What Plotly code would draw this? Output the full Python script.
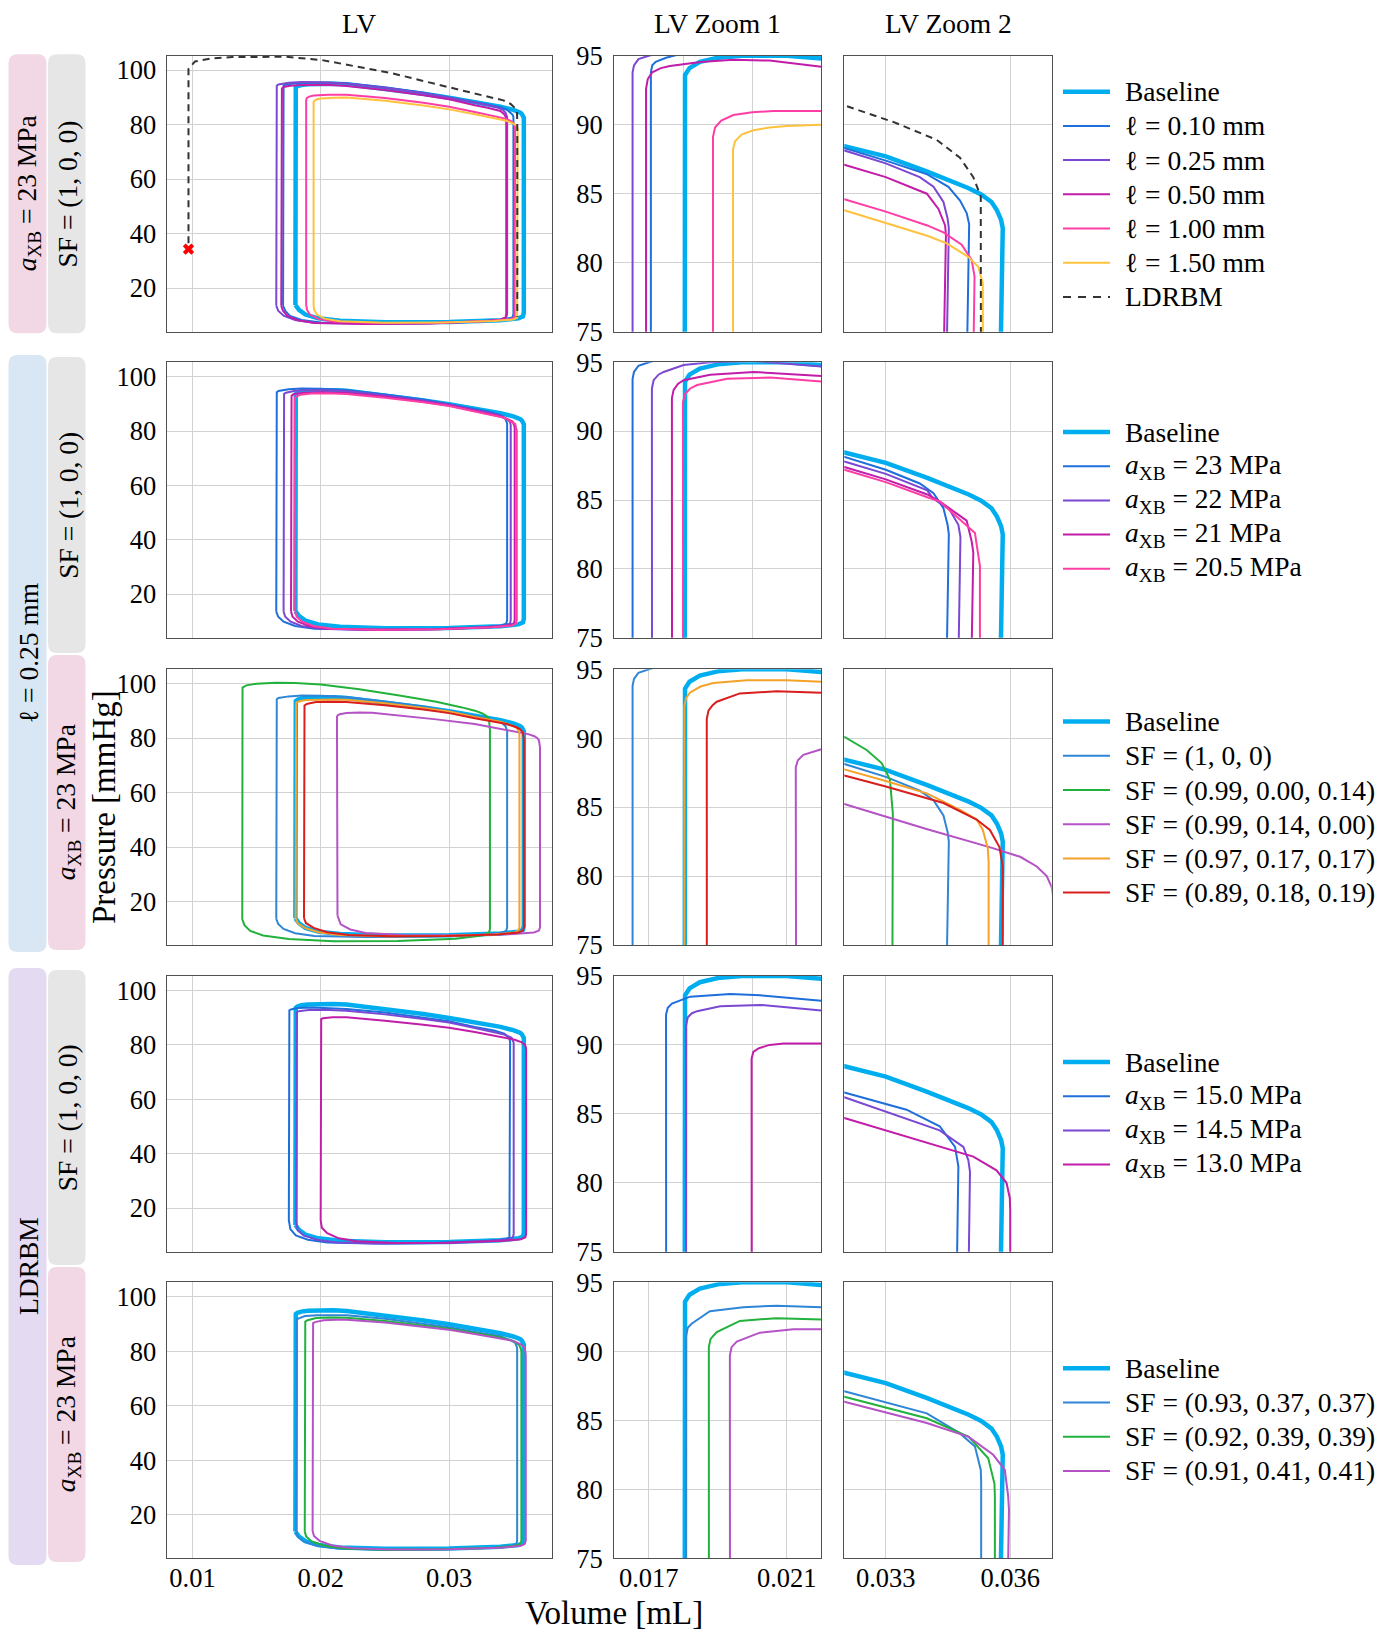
import plotly.graph_objects as go

# page is 1388 x 1633; the html body keeps an 8px margin, so the figure starts at (8, 8)
PAGE_W, PAGE_H, OFF = 1388, 1633, 8
W, H = PAGE_W - 2 * OFF, PAGE_H - OFF
SERIF = "Liberation Serif, Times New Roman, serif"

# ---------------------------------------------------------------- data
COLUMN_TITLES = ["LV", "LV Zoom 1", "LV Zoom 2"]
X_RANGES = [(0.008, 0.038), (0.016, 0.022), (0.032, 0.037)]
Y_RANGES = [(4.0, 105.3), (75.0, 95.0), (75.0, 95.0)]
LV_XTICKS = [0.01, 0.02, 0.03]
LV_XTICKTEXT = ["0.01", "0.02", "0.03"]
Z1_XTICKS_A = [0.016, 0.018, 0.020, 0.022]
Z1_XTICKS_B = [0.017, 0.021]
Z1_XTICKTEXT_B = ["0.017", "0.021"]
Z2_XTICKS = [0.033, 0.036]
Z2_XTICKTEXT = ["0.033", "0.036"]
LV_YTICKS = [20, 40, 60, 80, 100]
Z_YTICKS = [75, 80, 85, 90, 95]

# pressure-volume loops: (volume [mL], pressure [mmHg])
BASELINE = [
    (0.01802, 13.8), (0.01802, 92.9), (0.01805, 93.6), (0.01818, 94.1), (0.01848, 94.55),
    (0.0190, 94.85), (0.0197, 95.0), (0.0210, 95.0), (0.0220, 94.8), (0.0250, 93.2),
    (0.0280, 91.3), (0.0300, 89.9), (0.0320, 88.45), (0.0330, 87.7), (0.0340, 86.6),
    (0.0350, 85.4), (0.0353, 84.95), (0.03555, 84.4), (0.03568, 83.8), (0.03578, 83.1),
    (0.03582, 82.5), (0.03582, 11.0), (0.03575, 9.6), (0.0354, 8.9), (0.0340, 8.2),
    (0.0300, 7.6), (0.0250, 7.5), (0.0215, 8.0), (0.0198, 8.9), (0.0188, 10.3),
    (0.0183, 12.0), (0.01802, 13.8)]

L010 = [
    (0.01706, 13.5), (0.01706, 93.8), (0.0171, 94.3), (0.0172, 94.55), (0.0175, 94.85),
    (0.0178, 95.05), (0.0185, 95.35), (0.0195, 95.5), (0.0205, 95.5), (0.0220, 95.2),
    (0.0250, 93.7), (0.0280, 91.7), (0.0300, 90.1), (0.0320, 88.3), (0.0330, 87.4),
    (0.0340, 86.4), (0.03451, 85.5), (0.03479, 84.5), (0.03495, 83.6), (0.03501, 82.8),
    (0.03501, 10.5), (0.03495, 9.3), (0.0346, 8.6), (0.0330, 7.9), (0.0290, 7.2),
    (0.0240, 7.0), (0.0200, 7.4), (0.0185, 8.3), (0.0176, 9.8), (0.01725, 11.5),
    (0.01706, 13.5)]

# l = 0.25 mm, a_XB = 23 MPa, SF = (1, 0, 0)
L025 = [
    (0.01653, 13.6), (0.01653, 93.8), (0.01657, 94.3), (0.0167, 94.75), (0.0170, 95.0),
    (0.0175, 95.35), (0.0185, 95.65), (0.0200, 95.6), (0.0220, 95.1), (0.0250, 93.5),
    (0.0280, 91.6), (0.0300, 90.0), (0.0320, 88.15), (0.0330, 87.2), (0.03382, 86.2),
    (0.03415, 85.5), (0.03439, 84.4), (0.03449, 83.2), (0.03452, 82.5), (0.03452, 10.5),
    (0.03445, 9.2), (0.0341, 8.5), (0.0325, 7.8), (0.0285, 7.1), (0.0235, 6.9),
    (0.0195, 7.3), (0.0180, 8.3), (0.0171, 9.9), (0.01668, 11.7), (0.01653, 13.6)]

L050 = [
    (0.01692, 13.5), (0.01692, 92.6), (0.01697, 93.3), (0.0171, 93.8), (0.01735, 94.1),
    (0.01761, 94.25), (0.0185, 94.55), (0.01945, 94.7), (0.0205, 94.65), (0.0220, 94.2),
    (0.0250, 92.7), (0.0280, 90.8), (0.0300, 89.3), (0.0320, 87.1), (0.0330, 86.2),
    (0.03399, 85.0), (0.03427, 83.9), (0.03443, 82.7), (0.03445, 82.0), (0.03445, 10.5),
    (0.0344, 9.2), (0.0340, 8.4), (0.0325, 7.7), (0.0285, 7.0), (0.0235, 6.8),
    (0.0195, 7.2), (0.0182, 8.2), (0.0174, 9.8), (0.01705, 11.7), (0.01692, 13.5)]

L100 = [
    (0.01886, 13.8), (0.01886, 89.1), (0.01892, 89.8), (0.0191, 90.3), (0.01945, 90.7),
    (0.0200, 90.9), (0.0206, 91.0), (0.0220, 91.0), (0.0250, 89.8), (0.0280, 88.0),
    (0.0300, 86.6), (0.0320, 84.6), (0.0330, 83.7), (0.0340, 82.7), (0.03439, 82.2),
    (0.03483, 81.3), (0.03507, 80.2), (0.03514, 79.0), (0.03514, 10.5), (0.0351, 9.3),
    (0.0348, 8.6), (0.0330, 7.9), (0.0290, 7.3), (0.0245, 7.2), (0.0210, 7.7),
    (0.0198, 8.7), (0.01915, 10.3), (0.01893, 12.0), (0.01886, 13.8)]

L150 = [
    (0.01944, 13.8), (0.01944, 88.2), (0.0195, 88.8), (0.0197, 89.3), (0.02003, 89.6),
    (0.0205, 89.8), (0.0210, 89.9), (0.0220, 90.0), (0.0250, 88.8), (0.0280, 87.0),
    (0.0300, 85.6), (0.0320, 83.8), (0.0330, 82.9), (0.0340, 81.95), (0.03447, 81.4),
    (0.0350, 80.4), (0.03523, 79.7), (0.03534, 78.5), (0.03534, 10.3), (0.0353, 9.2),
    (0.0350, 8.5), (0.0335, 7.9), (0.0295, 7.4), (0.0250, 7.3), (0.0215, 7.8),
    (0.0203, 8.8), (0.01968, 10.4), (0.01948, 12.1), (0.01944, 13.8)]

LDRBM_CURVE = [
    (0.00969, 36.5), (0.00969, 100.5), (0.0102, 103.2), (0.0115, 104.3), (0.0131, 104.8),
    (0.0160, 105.0), (0.0173, 104.9), (0.0201, 103.7), (0.0228, 101.2), (0.0256, 98.8),
    (0.0300, 93.7), (0.0320, 91.4), (0.03318, 90.2), (0.03423, 88.9), (0.03479, 87.6),
    (0.03511, 86.2), (0.03529, 84.8), (0.03531, 80.0), (0.03531, 9.5)]
LDRBM_START = [(0.00969, 34.3)]

A22 = [
    (0.0171, 13.6), (0.01709, 93.1), (0.01714, 93.7), (0.01728, 94.1), (0.01743, 94.3),
    (0.01801, 94.8), (0.01878, 95.0), (0.0200, 95.1), (0.0220, 94.7), (0.0250, 93.1),
    (0.0280, 91.2), (0.0300, 89.8), (0.0320, 87.8), (0.0330, 86.9), (0.0340, 85.7),
    (0.03414, 85.1), (0.03454, 84.3), (0.03475, 83.2), (0.0348, 82.3), (0.0348, 10.5),
    (0.03474, 9.2), (0.0344, 8.5), (0.0328, 7.8), (0.0288, 7.1), (0.0238, 6.9),
    (0.0200, 7.3), (0.0185, 8.3), (0.01765, 9.9), (0.01723, 11.7), (0.0171, 13.6)]

A21 = [
    (0.01768, 13.6), (0.01767, 92.4), (0.01772, 93.0), (0.01785, 93.45), (0.01801, 93.7),
    (0.01878, 94.1), (0.02004, 94.3), (0.0220, 94.0), (0.0250, 92.6), (0.0280, 90.8),
    (0.0300, 89.4), (0.0320, 87.4), (0.0330, 86.5), (0.0340, 85.4), (0.0343, 84.9),
    (0.03495, 83.5), (0.03507, 82.0), (0.03511, 81.2), (0.03511, 10.5), (0.03505, 9.2),
    (0.0347, 8.5), (0.0331, 7.8), (0.0291, 7.1), (0.0243, 6.9), (0.0206, 7.3),
    (0.0191, 8.3), (0.01822, 9.9), (0.0178, 11.7), (0.01768, 13.6)]

A205 = [
    (0.0180, 13.6), (0.01799, 92.1), (0.01805, 92.7), (0.0182, 93.1), (0.0184, 93.35),
    (0.01927, 93.8), (0.02052, 93.9), (0.0220, 93.6), (0.0250, 92.3), (0.0280, 90.6),
    (0.0300, 89.2), (0.0320, 87.2), (0.0330, 86.3), (0.0340, 85.2), (0.0343, 84.9),
    (0.03515, 82.6), (0.03523, 81.0), (0.03527, 80.2), (0.03527, 10.5), (0.0352, 9.2),
    (0.0349, 8.5), (0.0333, 7.8), (0.0293, 7.1), (0.0246, 6.9), (0.0209, 7.3),
    (0.0194, 8.3), (0.01855, 9.9), (0.01812, 11.7), (0.0180, 13.6)]

SF_099_000_014 = [
    (0.01388, 13.5), (0.01385, 97.8), (0.0139, 98.6), (0.0142, 99.4), (0.0150, 100.0),
    (0.0165, 100.35), (0.0180, 100.3), (0.0200, 99.7), (0.0230, 98.0), (0.0260, 95.8),
    (0.0290, 93.4), (0.0310, 91.3), (0.0320, 90.1), (0.03254, 89.15), (0.0329, 88.2),
    (0.0331, 87.0), (0.03317, 84.55), (0.03318, 83.0), (0.03318, 9.8), (0.0331, 8.6),
    (0.0327, 7.6), (0.0305, 6.3), (0.0260, 5.5), (0.0210, 5.4), (0.0175, 6.2),
    (0.0155, 7.5), (0.0145, 9.2), (0.01405, 11.3), (0.01388, 13.5)]

SF_099_014_000 = [
    (0.0213, 14.8), (0.02126, 87.9), (0.02132, 88.4), (0.02148, 88.8), (0.0220, 89.2),
    (0.0230, 89.45), (0.0240, 89.3), (0.0260, 88.4), (0.0290, 86.9), (0.0320, 85.23),
    (0.0340, 83.4), (0.0355, 82.1), (0.03624, 81.4), (0.03664, 80.7), (0.03688, 80.0),
    (0.0370, 79.2), (0.03706, 78.0), (0.03708, 76.5), (0.03708, 10.5), (0.0370, 9.3),
    (0.0366, 8.6), (0.0350, 8.0), (0.0310, 7.6), (0.0265, 7.7), (0.0235, 8.4),
    (0.0223, 9.7), (0.02155, 11.6), (0.0213, 14.8)]

SF_097_017_017 = [
    (0.01804, 13.8), (0.01803, 92.3), (0.01808, 92.9), (0.01819, 93.3), (0.0185, 93.75),
    (0.01887, 94.0), (0.01984, 94.2), (0.0210, 94.2), (0.0220, 94.1), (0.0250, 92.8),
    (0.0280, 91.1), (0.0300, 89.8), (0.0320, 87.74), (0.0330, 86.9), (0.03399, 86.0),
    (0.03479, 84.8), (0.03519, 84.1), (0.03534, 83.35), (0.03546, 82.0), (0.03548, 81.0),
    (0.03548, 10.5), (0.0354, 9.3), (0.0351, 8.6), (0.0335, 7.9), (0.0295, 7.3),
    (0.0250, 7.2), (0.0215, 7.7), (0.0198, 8.7), (0.01875, 10.3), (0.0182, 12.0),
    (0.01804, 13.8)]

SF_089_018_019 = [
    (0.01869, 13.8), (0.01868, 91.4), (0.01873, 92.0), (0.01885, 92.4), (0.01897, 92.65),
    (0.01964, 93.25), (0.0207, 93.4), (0.0220, 93.3), (0.0250, 92.1), (0.0280, 90.5),
    (0.0300, 89.2), (0.0320, 87.3), (0.0330, 86.5), (0.03439, 85.3), (0.03519, 84.1),
    (0.03551, 83.35), (0.03574, 82.1), (0.03582, 80.7), (0.03583, 79.5), (0.03583, 10.5),
    (0.03575, 9.3), (0.0354, 8.6), (0.0338, 7.9), (0.0298, 7.3), (0.0255, 7.2),
    (0.0222, 7.7), (0.0205, 8.7), (0.01945, 10.3), (0.01885, 12.0), (0.01869, 13.8)]

LD_A150 = [
    (0.01751, 15.5), (0.0175, 92.2), (0.01755, 92.7), (0.01767, 93.0), (0.0182, 93.5),
    (0.01936, 93.7), (0.02023, 93.6), (0.0220, 93.2), (0.0250, 91.9), (0.0280, 90.1),
    (0.0300, 88.7), (0.0320, 86.55), (0.0335, 85.3), (0.0343, 84.1), (0.03467, 82.6),
    (0.03475, 81.2), (0.03475, 10.5), (0.0347, 9.3), (0.0344, 8.6), (0.0328, 7.9),
    (0.0288, 7.2), (0.0240, 7.0), (0.0205, 7.4), (0.0190, 8.4), (0.01805, 10.0),
    (0.01763, 12.3), (0.01751, 15.5)]

LD_A145 = [
    (0.01809, 15.0), (0.01808, 91.4), (0.01813, 92.0), (0.01825, 92.3), (0.0184, 92.45),
    (0.01907, 92.8), (0.02023, 92.9), (0.0220, 92.5), (0.0250, 91.2), (0.0280, 89.5),
    (0.0300, 88.2), (0.0320, 86.2), (0.0343, 83.8), (0.03487, 82.6), (0.03499, 81.65),
    (0.03503, 80.8), (0.03503, 10.5), (0.03497, 9.3), (0.0347, 8.6), (0.0331, 7.9),
    (0.0291, 7.2), (0.0245, 7.0), (0.0212, 7.4), (0.0197, 8.4), (0.01865, 10.0),
    (0.0182, 12.0), (0.01809, 15.0)]

LD_A130 = [
    (0.01999, 15.5), (0.01998, 89.0), (0.02003, 89.5), (0.02018, 89.75), (0.0205, 90.0),
    (0.02091, 90.1), (0.0220, 90.1), (0.0250, 88.9), (0.0280, 87.4), (0.0300, 86.3),
    (0.0320, 84.7), (0.03511, 81.9), (0.03567, 80.9), (0.03591, 80.0), (0.03599, 78.9),
    (0.0360, 78.0), (0.0360, 10.5), (0.03594, 9.3), (0.0356, 8.6), (0.0340, 7.9),
    (0.0300, 7.3), (0.0258, 7.2), (0.0228, 7.8), (0.0214, 8.9), (0.0205, 10.8),
    (0.02008, 12.8), (0.01999, 15.5)]

LD_SF_093 = [
    (0.01809, 13.8), (0.01808, 91.1), (0.01813, 91.7), (0.01824, 92.0), (0.01877, 92.9),
    (0.01974, 93.2), (0.0207, 93.3), (0.0220, 93.2), (0.0250, 91.9), (0.0280, 90.1),
    (0.0300, 88.8), (0.0320, 87.1), (0.03399, 85.5), (0.03479, 84.05), (0.03515, 83.1),
    (0.03529, 81.4), (0.0353, 80.5), (0.0353, 10.5), (0.03524, 9.3), (0.0349, 8.6),
    (0.0333, 7.9), (0.0293, 7.3), (0.0248, 7.1), (0.0213, 7.6), (0.0197, 8.6),
    (0.01865, 10.2), (0.0182, 12.0), (0.01809, 13.8)]

LD_SF_092 = [
    (0.01875, 13.8), (0.01874, 90.3), (0.01879, 90.9), (0.01897, 91.4), (0.01964, 92.2),
    (0.0207, 92.4), (0.0220, 92.3), (0.0250, 91.1), (0.0280, 89.5), (0.0300, 88.3),
    (0.0320, 86.7), (0.03399, 85.15), (0.0350, 83.8), (0.03547, 82.25), (0.03562, 80.4),
    (0.03563, 79.5), (0.03563, 10.5), (0.03557, 9.3), (0.0352, 8.6), (0.0336, 7.9),
    (0.0296, 7.3), (0.0252, 7.1), (0.0219, 7.6), (0.0203, 8.6), (0.0193, 10.2),
    (0.01886, 12.0), (0.01875, 13.8)]

LD_SF_091 = [
    (0.01936, 14.0), (0.01935, 89.7), (0.0194, 90.3), (0.01955, 90.7), (0.02022, 91.35),
    (0.02119, 91.6), (0.0220, 91.6), (0.0250, 90.5), (0.0280, 89.0), (0.0300, 87.9),
    (0.0320, 86.35), (0.03399, 84.8), (0.0350, 83.8), (0.03559, 82.5), (0.03587, 81.4),
    (0.03595, 79.5), (0.03597, 78.5), (0.03597, 10.5), (0.0359, 9.3), (0.0356, 8.6),
    (0.0340, 7.9), (0.0300, 7.3), (0.0256, 7.2), (0.0225, 7.7), (0.0209, 8.7),
    (0.0199, 10.4), (0.01947, 12.2), (0.01936, 14.0)]

# legend labels
SUB_A = "<i>a</i><sub>XB</sub>"
ROW1_LABELS = ["Baseline", "ℓ = 0.10 mm", "ℓ = 0.25 mm", "ℓ = 0.50 mm", "ℓ = 1.00 mm", "ℓ = 1.50 mm", "LDRBM"]
ROW2_LABELS = ["Baseline", SUB_A + " = 23 MPa", SUB_A + " = 22 MPa", SUB_A + " = 21 MPa", SUB_A + " = 20.5 MPa"]
ROW3_LABELS = ["Baseline", "SF = (1, 0, 0)", "SF = (0.99, 0.00, 0.14)", "SF = (0.99, 0.14, 0.00)",
               "SF = (0.97, 0.17, 0.17)", "SF = (0.89, 0.18, 0.19)"]
ROW4_LABELS = ["Baseline", SUB_A + " = 15.0 MPa", SUB_A + " = 14.5 MPa", SUB_A + " = 13.0 MPa"]
ROW5_LABELS = ["Baseline", "SF = (0.93, 0.37, 0.37)", "SF = (0.92, 0.39, 0.39)", "SF = (0.91, 0.41, 0.41)"]

# ---------------------------------------------------------------- styles
C_BASE = "#00AEEF"
C_BLUE = "#1E6FDB"
C_PURPLE = "#7A48D3"
C_MAGENTA = "#C21DA9"
C_PINK = "#FF3EA5"
C_YELLOW = "#FFC23E"
C_DASH = "#333333"
C_SFBLUE = "#2F86D6"
C_GREEN = "#22B13C"
C_VIOLET = "#B452C6"
C_ORANGE = "#F4A22A"
C_RED = "#D91E1E"
W_BASE, W_THIN = 4.5, 2.0
DASH = "7px,5px"

ROW_SERIES = [
    list(zip(ROW1_LABELS, [BASELINE, L010, L025, L050, L100, L150, LDRBM_CURVE],
             [C_BASE, C_BLUE, C_PURPLE, C_MAGENTA, C_PINK, C_YELLOW, C_DASH])),
    list(zip(ROW2_LABELS, [BASELINE, L025, A22, A21, A205],
             [C_BASE, C_BLUE, C_PURPLE, C_MAGENTA, C_PINK])),
    list(zip(ROW3_LABELS, [BASELINE, L025, SF_099_000_014, SF_099_014_000, SF_097_017_017, SF_089_018_019],
             [C_BASE, C_SFBLUE, C_GREEN, C_VIOLET, C_ORANGE, C_RED])),
    list(zip(ROW4_LABELS, [BASELINE, LD_A150, LD_A145, LD_A130],
             [C_BASE, C_BLUE, C_PURPLE, C_MAGENTA])),
    list(zip(ROW5_LABELS, [BASELINE, LD_SF_093, LD_SF_092, LD_SF_091],
             [C_BASE, C_SFBLUE, C_GREEN, C_VIOLET])),
]

# geometry (page pixels)
COLS_PX = [(166.8, 551.8), (614.3, 821.3), (844.3, 1051.7)]
ROWS_PX = [(55.7, 331.7), (362.3, 637.7), (669.3, 945.0), (976.0, 1251.7), (1282.3, 1558.3)]
LEGEND_FIRST_Y = [91.7, 432.0, 721.6, 1062.0, 1368.3]
LEGEND_PITCH = 34.2
LEGEND_LINE_X = (1063.0, 1110.0)
LEGEND_TEXT_X = 1123.0
F_TICK, F_TEXT, F_TITLE = 26.5, 27.5, 33


def px(x):
    return (x - OFF) / W


def py(y):
    return 1 - (y - OFF) / H


fig = go.Figure()
layout = dict(
    width=W, height=H, margin=dict(l=0, r=0, t=0, b=0, pad=0), autosize=False,
    paper_bgcolor="white", plot_bgcolor="white",
    font=dict(family=SERIF, size=F_TICK, color="black"),
    showlegend=False,
)

for r, series in enumerate(ROW_SERIES):
    for c in range(3):
        k = r * 3 + c + 1
        xa = "x" if k == 1 else f"x{k}"
        ya = "y" if k == 1 else f"y{k}"
        for (name, pts, color) in series:
            is_base = name == "Baseline"
            is_dash = name == "LDRBM"
            fig.add_trace(go.Scatter(
                x=[p[0] for p in pts], y=[p[1] for p in pts], mode="lines",
                name=name, showlegend=False,
                line=dict(color=color, width=W_BASE if is_base else W_THIN,
                          dash=DASH if is_dash else "solid"),
                xaxis=xa, yaxis=ya, hoverinfo="skip"))
        if r == 0 and c == 0:
            fig.add_trace(go.Scatter(
                x=[p[0] for p in LDRBM_START], y=[p[1] for p in LDRBM_START], mode="markers",
                marker=dict(symbol="x", size=10, color="#FF0000", line=dict(width=0)),
                showlegend=False, xaxis=xa, yaxis=ya, hoverinfo="skip"))

        # axes
        x0, x1 = COLS_PX[c]
        y0, y1 = ROWS_PX[r]
        if c == 0:
            xt, xtt = LV_XTICKS, LV_XTICKTEXT
        elif c == 1:
            if r in (2, 4):
                xt, xtt = Z1_XTICKS_B, Z1_XTICKTEXT_B
            else:
                xt, xtt = Z1_XTICKS_A, [f"{v:.3f}" for v in Z1_XTICKS_A]
        else:
            xt, xtt = Z2_XTICKS, Z2_XTICKTEXT
        common = dict(showgrid=True, gridcolor="#D2D2D2", gridwidth=1.3, zeroline=False,
                      showline=True, mirror=True, linecolor="#505050", linewidth=1.3,
                      ticks="", automargin=False,
                      tickfont=dict(family=SERIF, size=F_TICK, color="black"))
        layout["xaxis" if k == 1 else f"xaxis{k}"] = dict(
            domain=[px(x0), px(x1)], anchor=ya, range=list(X_RANGES[c]),
            tickmode="array", tickvals=xt, ticktext=xtt,
            showticklabels=(r == 4), ticklabelstandoff=-4, **common)
        layout["yaxis" if k == 1 else f"yaxis{k}"] = dict(
            domain=[py(y1), py(y0)], anchor=xa, range=list(Y_RANGES[c]),
            tickmode="array", tickvals=LV_YTICKS if c == 0 else Z_YTICKS,
            showticklabels=(c < 2), ticklabelstandoff=4 if c == 0 else 5, **common)

# ---------------------------------------------------------------- legends, annotations, shapes
annotations = []
shapes = []

for r, series in enumerate(ROW_SERIES):
    for i, (name, pts, color) in enumerate(series):
        yc = LEGEND_FIRST_Y[r] + i * LEGEND_PITCH
        is_base = name == "Baseline"
        is_dash = name == "LDRBM"
        shapes.append(dict(type="line", xref="paper", yref="paper",
                           x0=px(LEGEND_LINE_X[0]), x1=px(LEGEND_LINE_X[1]), y0=py(yc), y1=py(yc),
                           line=dict(color=color, width=W_BASE if is_base else W_THIN,
                                     dash="8px,7px" if is_dash else "solid")))
        annotations.append(dict(text=name, x=px(LEGEND_TEXT_X), y=py(yc), xref="paper", yref="paper",
                                showarrow=False, xanchor="left", yanchor="middle",
                                font=dict(family=SERIF, size=F_TEXT, color="black")))

for c, title in enumerate(COLUMN_TITLES):
    x0, x1 = COLS_PX[c]
    annotations.append(dict(text=title, x=px((x0 + x1) / 2), y=py(24), xref="paper", yref="paper",
                            showarrow=False, xanchor="center", yanchor="middle",
                            font=dict(family=SERIF, size=F_TEXT, color="black")))
annotations.append(dict(text="Volume [mL]", x=px(614), y=py(1613), xref="paper", yref="paper",
                        showarrow=False, xanchor="center", yanchor="middle",
                        font=dict(family=SERIF, size=F_TITLE, color="black")))
annotations.append(dict(text="Pressure [mmHg]", x=px(104), y=py(807), xref="paper", yref="paper",
                        showarrow=False, xanchor="center", yanchor="middle", textangle=-90,
                        font=dict(family=SERIF, size=F_TITLE, color="black")))

PINK, GRAY, BLUE, LAV = "#F2D8E5", "#E6E6E6", "#D9E6F3", "#E4DAF2"
BOXES = [
    # (x0, y0, x1, y1, color, label)
    (8.5, 54.3, 46.5, 333.3, PINK, SUB_A + " = 23 MPa"),
    (48.0, 54.3, 85.5, 333.3, GRAY, "SF = (1, 0, 0)"),
    (8.5, 355.0, 46.5, 952.0, BLUE, "ℓ = 0.25 mm"),
    (48.0, 357.0, 85.5, 653.0, GRAY, "SF = (1, 0, 0)"),
    (48.0, 655.0, 85.5, 950.0, PINK, SUB_A + " = 23 MPa"),
    (8.5, 968.0, 46.5, 1565.0, LAV, "LDRBM"),
    (48.0, 970.0, 85.5, 1265.0, GRAY, "SF = (1, 0, 0)"),
    (48.0, 1267.0, 85.5, 1562.0, PINK, SUB_A + " = 23 MPa"),
]
R = 9.0
for (bx0, by0, bx1, by1, col, lab) in BOXES:
    X0, X1 = px(bx0), px(bx1)
    Y0, Y1 = py(by0), py(by1)
    rx, ry = R / W, R / H
    path = (f"M {X0 + rx},{Y0} L {X1 - rx},{Y0} Q {X1},{Y0} {X1},{Y0 - ry} "
            f"L {X1},{Y1 + ry} Q {X1},{Y1} {X1 - rx},{Y1} L {X0 + rx},{Y1} "
            f"Q {X0},{Y1} {X0},{Y1 + ry} L {X0},{Y0 - ry} Q {X0},{Y0} {X0 + rx},{Y0} Z")
    shapes.append(dict(type="path", path=path, xref="paper", yref="paper",
                       fillcolor=col, line=dict(width=0), layer="below"))
    annotations.append(dict(text=lab, x=px((bx0 + bx1) / 2 + 1), y=py((by0 + by1) / 2),
                            xref="paper", yref="paper", showarrow=False, textangle=-90,
                            xanchor="center", yanchor="middle",
                            font=dict(family=SERIF, size=F_TEXT, color="black")))

layout["annotations"] = annotations
layout["shapes"] = shapes
fig.update_layout(**layout)
fig.write_html("out.html")
